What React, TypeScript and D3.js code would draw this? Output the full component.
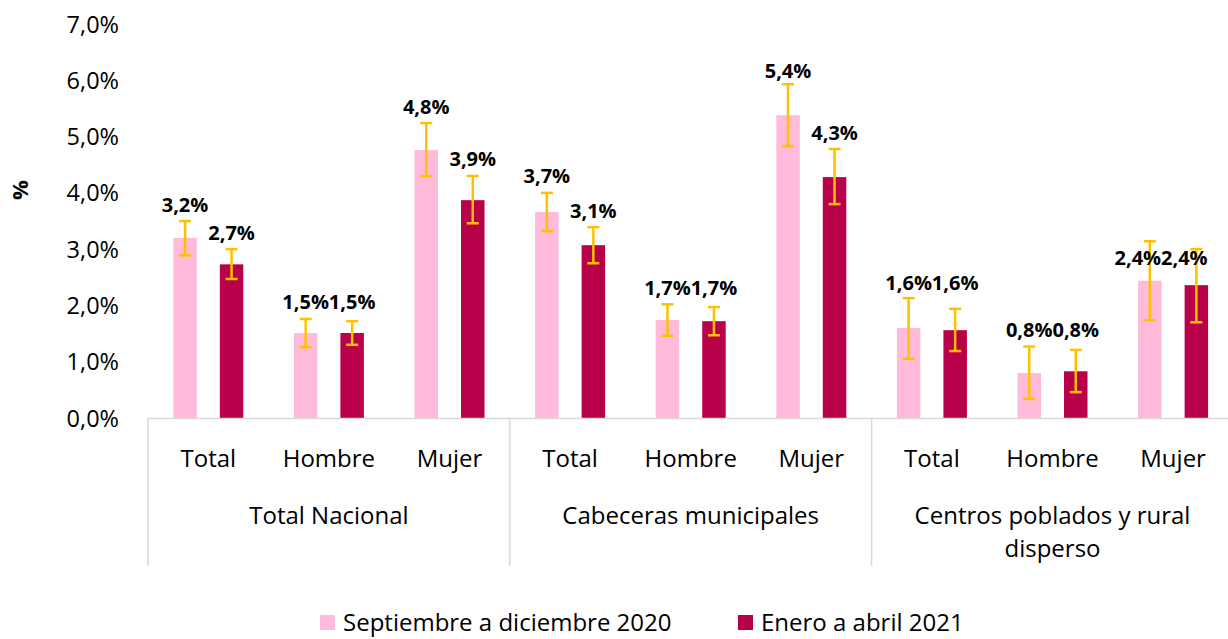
import React from "react";
import * as d3 from "d3";

const groups = ["Total Nacional", "Cabeceras municipales", "Centros poblados y rural disperso"];
const subcats = ["Total", "Hombre", "Mujer"];
const seriesNames = ["Septiembre a diciembre 2020", "Enero a abril 2021"];

const sep2020 = [3.2, 1.51, 4.76, 3.66, 1.74, 5.38, 1.6, 0.8, 2.44];
const jan2021 = [2.73, 1.51, 3.87, 3.07, 1.72, 4.28, 1.56, 0.83, 2.36];
const lo2020 = [2.89, 1.26, 4.3, 3.32, 1.46, 4.83, 1.05, 0.34, 1.74];
const hi2020 = [3.5, 1.76, 5.24, 4.0, 2.02, 5.93, 2.13, 1.27, 3.14];
const lo2021 = [2.47, 1.3, 3.46, 2.75, 1.47, 3.8, 1.19, 0.46, 1.7];
const hi2021 = [3.0, 1.72, 4.3, 3.39, 1.97, 4.78, 1.94, 1.21, 3.0];
const yTicks = [0, 1, 2, 3, 4, 5, 6, 7];

const W = 1228;
const H = 639;
const COLORS = ["#FFBBD9", "#B8004B"];
const ERR = "#FFC000";
const FONT = "'Open Sans', 'Noto Sans', sans-serif";

const fmt = (v: number) => d3.format(".1f")(v).replace(".", ",") + "%";

export default function App() {
  const left = 148;
  const catStep = 120.6;
  const cats = d3.range(9);
  const x0 = d3.scaleBand<number>().domain(cats).range([left, left + catStep * 9]).paddingInner(0).paddingOuter(0);
  const x1 = d3.scaleBand<number>().domain([0, 1]).range([-35, 35]).paddingInner(0.495).paddingOuter(0);
  const y = d3.scaleLinear().domain([0, 7]).range([418, 24]);

  const vals = [sep2020, jan2021];
  const los = [lo2020, lo2021];
  const his = [hi2020, hi2021];

  const center = (c: number) => (x0(c) as number) + x0.bandwidth() / 2;

  const labelPos = (c: number, s: number) => {
    const lab0 = fmt(sep2020[c]);
    const lab1 = fmt(jan2021[c]);
    const base = (k: number) => Math.max(y(his[k][c]) - 17, y(vals[k][c]) - 45);
    let cy = lab0 === lab1 ? Math.min(base(0), base(1)) : base(s);
    let dx = 0;
    if (c === 8) {
      cy = Math.min(y(vals[0][c]), y(vals[1][c])) - 23;
      dx = -12;
    }
    return { cx: center(c) + (x1(s) as number) + x1.bandwidth() / 2 + dx, cy };
  };

  const axisY = y(0);
  const gridGray = "#D9D9D9";

  return (
    <svg width={W} height={H} style={{ position: "absolute", left: 0, top: 0, fontFamily: FONT }}>
      <rect x={0} y={0} width={W} height={H} fill="#fff" />
      {yTicks.map((t) => (
        <text key={t} x={119} y={y(t) + 8.5} textAnchor="end" fontSize={23.5} fill="#000">
          {fmt(t)}
        </text>
      ))}
      <text transform={`translate(28,190) rotate(-90)`} textAnchor="middle" fontSize={22} fontWeight="bold" fill="#000">
        %
      </text>

      {cats.map((c) =>
        [0, 1].map((s) => {
          const bx = center(c) + (x1(s) as number);
          return (
            <rect
              key={`b${c}-${s}`}
              x={bx}
              y={y(vals[s][c])}
              width={x1.bandwidth()}
              height={axisY - y(vals[s][c])}
              fill={COLORS[s]}
            />
          );
        })
      )}

      <line x1={left} x2={W} y1={axisY + 0.5} y2={axisY + 0.5} stroke={gridGray} strokeWidth={1.5} />
      {[0, 3, 6, 9].map((i) => {
        const xx = i === 9 ? left + catStep * 9 : (x0(i) as number);
        return <line key={`sep${i}`} x1={xx} x2={xx} y1={axisY} y2={566} stroke={gridGray} strokeWidth={1.5} />;
      })}

      {cats.map((c) =>
        [0, 1].map((s) => {
          const cx = center(c) + (x1(s) as number) + x1.bandwidth() / 2;
          const yt = y(his[s][c]);
          const yb = y(los[s][c]);
          return (
            <g key={`e${c}-${s}`} stroke={ERR} strokeWidth={2.5}>
              <line x1={cx} x2={cx} y1={yt} y2={yb} />
              <line x1={cx - 6} x2={cx + 6} y1={yt} y2={yt} />
              <line x1={cx - 6} x2={cx + 6} y1={yb} y2={yb} />
            </g>
          );
        })
      )}

      {cats.map((c) =>
        [0, 1].map((s) => {
          const p = labelPos(c, s);
          return (
            <text key={`l${c}-${s}`} x={p.cx} y={p.cy + 7.5} textAnchor="middle" fontSize={20} fontWeight="bold" fill="#000">
              {fmt(vals[s][c])}
            </text>
          );
        })
      )}

      {cats.map((c) => (
        <text key={`c${c}`} x={center(c)} y={467} textAnchor="middle" fontSize={24} fill="#000">
          {subcats[c % 3]}
        </text>
      ))}
      {groups.map((g, i) => {
        const gx = (x0(i * 3) as number) + (catStep * 3) / 2;
        const lines = i === 2 ? ["Centros poblados y rural", "disperso"] : [g];
        return (
          <text key={`g${i}`} textAnchor="middle" fontSize={24} fill="#000">
            {lines.map((ln, k) => (
              <tspan key={k} x={gx} y={524 + k * 33}>
                {ln}
              </tspan>
            ))}
          </text>
        );
      })}

      {seriesNames.map((n, i) => {
        const lx = [320, 738][i];
        return (
          <g key={`leg${i}`}>
            <rect x={lx} y={615} width={15} height={15} fill={COLORS[i]} />
            <text x={lx + 23} y={631} fontSize={24} fill="#000">
              {n}
            </text>
          </g>
        );
      })}
    </svg>
  );
}
